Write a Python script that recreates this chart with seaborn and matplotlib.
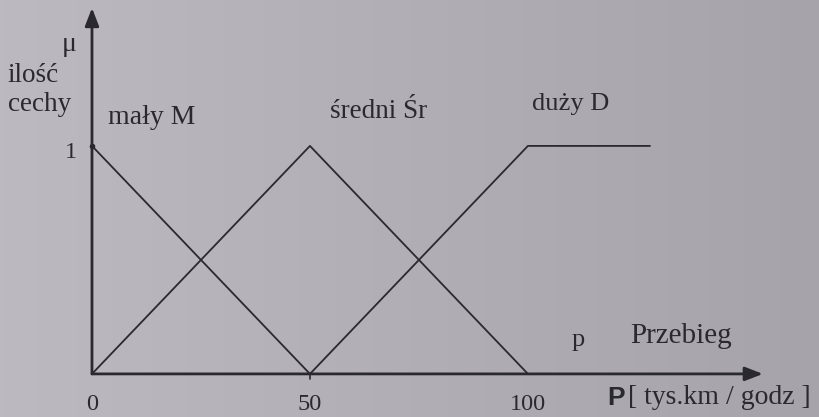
import numpy as np
import pandas as pd
import matplotlib
matplotlib.use("Agg")
import matplotlib.pyplot as plt
import seaborn as sns

# Membership functions of the "przebieg" (mileage) variable
p_maly = [0, 50]
mu_maly = [1, 0]
p_sredni = [0, 50, 100]
mu_sredni = [0, 1, 0]
p_duzy = [50, 100, 128]
mu_duzy = [0, 1, 1]

set_names = ["mały M", "średni Śr", "duży D"]
tick_values = [0, 50, 100]
tick_labels = ["0", "50", "100"]

sns.set_theme(style="white")
plt.rcParams["font.family"] = ["Liberation Serif", "DejaVu Serif"]

ink = "#2a292f"
paper_left = "#bdb9c1"
paper_right = "#a6a3ab"

fig = plt.figure(figsize=(8.2, 4.17), dpi=100)
ax = fig.add_axes([0, 0, 1, 1])

# paper background with its uneven lighting
grad = np.linspace(0, 1, 256).reshape(1, -1)
cmap = matplotlib.colors.LinearSegmentedColormap.from_list("paper", [paper_left, paper_right])
ax.imshow(grad, cmap=cmap, aspect="auto", extent=(-21.1, 167.0, -0.189, 1.640), zorder=0)

frames = [
    pd.DataFrame({"P": p_maly, "mu": mu_maly, "zbior": set_names[0]}),
    pd.DataFrame({"P": p_sredni, "mu": mu_sredni, "zbior": set_names[1]}),
    pd.DataFrame({"P": p_duzy, "mu": mu_duzy, "zbior": set_names[2]}),
]
df = pd.concat(frames, ignore_index=True)
sns.lineplot(data=df, x="P", y="mu", hue="zbior", units="zbior", estimator=None,
             sort=False, palette=[ink] * 3, linewidth=1.3, legend=False, ax=ax, zorder=3)
ax.set_xlim(-21.1, 167.0)
ax.set_ylim(-0.189, 1.640)
ax.set_axis_off()

# coordinate axes with arrows
arrow = dict(arrowstyle="-|>,head_length=0.9,head_width=0.35", color=ink, lw=2.0,
             shrinkA=0, shrinkB=0)
ax.annotate("", xy=(153.9, 0), xytext=(0, 0), arrowprops=arrow, zorder=4)
ax.annotate("", xy=(0, 1.605), xytext=(0, 0), arrowprops=arrow, zorder=4)
ax.plot([50, 50], [0, -0.022], color=ink, lw=1.2, zorder=4)
ax.plot([0], [1], marker="o", ms=3, color=ink, zorder=5)

fs = 19
for v, lab in zip(tick_values, tick_labels):
    ax.text(v, -0.09, lab, ha="center", va="top", fontsize=17.5, color=ink)
ax.text(-4.8, 0.969, "1", ha="center", va="center", fontsize=17.5, color=ink)

ax.text(-6.9, 1.447, "μ", ha="left", va="center", fontsize=20, color=ink)
ax.text(-19.3, 1.311, "ilość", ha="left", va="center", fontsize=19.5, color=ink)
ax.text(-19.3, 1.18, "cechy", ha="left", va="center", fontsize=19.5, color=ink)

ax.text(3.67, 1.123, set_names[0], ha="left", va="center", fontsize=fs + 1, color=ink)
ax.text(54.6, 1.153, set_names[1], ha="left", va="center", fontsize=fs + 0.5, color=ink)
ax.text(100.9, 1.184, set_names[2], ha="left", va="center", fontsize=fs, color=ink)

ax.text(110.1, 0.149, "p", ha="left", va="center", fontsize=fs, color=ink)
ax.text(123.4, 0.165, "Przebieg", ha="left", va="center", fontsize=fs + 2, color=ink)

ax.text(118.1, -0.105, "P", ha="left", va="center", fontsize=fs, color=ink,
        family=["Liberation Sans"], fontweight="bold")
ax.text(123.0, -0.105, "[ tys.km / godz ]", ha="left", va="center", fontsize=fs + 1, color=ink)

fig.savefig("out.png", dpi=100)
